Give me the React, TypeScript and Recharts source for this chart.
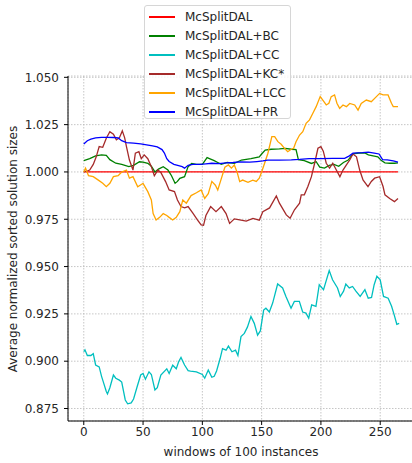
import React from "react";
import { LineChart, Line, XAxis, YAxis, CartesianGrid, Legend } from "recharts";

// ---- data ----
const dalX = [0, 265];
const dalY = [1.0, 1.0];

const bcX = [0, 5, 10, 15, 19, 22, 27, 32, 38, 42, 47, 50, 54, 57, 60, 63, 67, 71, 74, 77, 79, 81, 85, 88, 91, 95, 100, 104, 107, 110, 113, 116, 121, 127, 133, 141, 148, 150, 153, 158, 165, 170, 175, 179, 181, 186, 192, 196, 199, 203, 207, 211, 215, 219, 223, 227, 232, 237, 240, 244, 248, 251, 254, 258, 262, 265];
const bcY = [1.006, 1.007, 1.0085, 1.009, 1.0088, 1.0065, 1.0046, 1.004, 1.0028, 1.0035, 1.0054, 1.0052, 1.0046, 1.003, 1.0, 1.0015, 1.0028, 1.001, 0.998, 0.994, 0.995, 0.9966, 0.9975, 1.0028, 1.0045, 1.004, 1.004, 1.0076, 1.0068, 1.006, 1.005, 1.004, 1.005, 1.0045, 1.0063, 1.007, 1.008, 1.0095, 1.0116, 1.012, 1.0122, 1.0125, 1.012, 1.0118, 1.0065, 1.006, 1.0045, 1.0054, 1.0025, 1.002, 1.0035, 1.004, 1.003, 1.005, 1.0063, 1.0095, 1.01, 1.01, 1.009, 1.0085, 1.008, 1.006, 1.0048, 1.0046, 1.0046, 1.0048];

const ccX = [0, 1, 3, 6, 8, 10, 13, 15, 17, 19, 20, 22, 25, 27, 30, 32, 35, 37, 40, 42, 45, 48, 50, 52, 55, 57, 60, 62, 65, 70, 72, 75, 78, 80, 82, 85, 88, 90, 95, 100, 102, 105, 108, 110, 112, 115, 117, 120, 122, 125, 128, 130, 132.6, 135.4, 138, 141, 143.8, 146.6, 148.9, 151.7, 153.6, 156.5, 159.3, 163.5, 167.7, 170.5, 174.8, 177.6, 181.8, 184.6, 187.4, 189.7, 192.2, 195.8, 198.6, 202.2, 207, 209.8, 214, 216.3, 219.1, 221, 223.9, 226.7, 229.5, 233.1, 237.1, 239.9, 242.7, 244.9, 247.2, 250, 252.8, 256.7, 259.6, 261.8, 264, 266];
const ccY = [0.905, 0.906, 0.903, 0.903, 0.904, 0.898, 0.897, 0.892, 0.888, 0.884, 0.8827, 0.886, 0.8927, 0.891, 0.89, 0.889, 0.8795, 0.8775, 0.878, 0.88, 0.8865, 0.8927, 0.8935, 0.8905, 0.8944, 0.893, 0.8848, 0.886, 0.8927, 0.896, 0.8935, 0.8979, 0.896, 0.8997, 0.902, 0.898, 0.895, 0.8948, 0.8944, 0.893, 0.891, 0.8953, 0.8915, 0.892, 0.8948, 0.9014, 0.9066, 0.9058, 0.908, 0.905, 0.9058, 0.903, 0.913, 0.9147, 0.918, 0.9236, 0.92, 0.9138, 0.916, 0.927, 0.928, 0.926, 0.9307, 0.9408, 0.9387, 0.9342, 0.928, 0.9316, 0.9316, 0.926, 0.9254, 0.9227, 0.9298, 0.929, 0.9404, 0.9378, 0.9479, 0.943, 0.9387, 0.9342, 0.937, 0.9408, 0.9387, 0.9395, 0.937, 0.9342, 0.9378, 0.9333, 0.9337, 0.9404, 0.9449, 0.943, 0.9342, 0.9333, 0.929, 0.9245, 0.9195, 0.92];

const kcX = [0, 3, 5, 8, 10.5, 13, 16, 19, 22, 25, 27.5, 30, 32.5, 34.5, 36, 38.5, 41.5, 43.5, 46.5, 48.5, 51, 54, 57, 59.5, 62.5, 65, 69, 72, 76.5, 79, 82, 85, 88, 92, 96, 99, 101, 103, 107, 111.5, 116, 120, 123, 127, 131.5, 137, 142.7, 148, 151, 156.7, 162.4, 165, 170.8, 174, 177.7, 182, 183.4, 186, 189, 192, 194.7, 197.5, 200, 202, 204.5, 207.3, 210, 213, 216, 218.6, 221.5, 224.3, 227, 230, 232.7, 235.5, 239.7, 242.5, 245.3, 249.5, 252.4, 254, 258, 262, 265];
const kcY = [1.0, 1.0005, 1.001, 1.004, 1.008, 1.0134, 1.013, 1.0178, 1.0213, 1.02, 1.017, 1.018, 1.0217, 1.018, 1.0134, 1.0063, 1.001, 1.0099, 1.0107, 1.007, 1.009, 1.007, 1.0028, 0.998, 1.001, 0.9997, 0.9949, 0.9905, 0.9896, 0.9852, 0.9817, 0.981, 0.9817, 0.9782, 0.9746, 0.972, 0.9718, 0.977, 0.9817, 0.979, 0.9817, 0.978, 0.9728, 0.9752, 0.9747, 0.974, 0.9755, 0.9745, 0.979, 0.981, 0.9873, 0.9835, 0.9773, 0.9755, 0.98, 0.9835, 0.9879, 0.9879, 0.9923, 0.9975, 1.0046, 1.0125, 1.0134, 1.011, 1.0046, 1.002, 1.0046, 1.001, 0.9975, 1.001, 1.0037, 1.0063, 1.0095, 1.008, 1.001, 0.9958, 0.9923, 0.995, 0.9967, 0.9975, 0.9923, 0.9879, 0.986, 0.9843, 0.986];

const lccX = [0, 1.5, 4, 8, 12, 16, 19, 22, 25, 29, 32, 36, 38.5, 41.5, 45.5, 50, 54, 57, 58.5, 61, 64, 67, 70, 72, 75, 78, 81, 83.5, 86.5, 90.5, 95, 99, 102, 105, 108, 111, 113, 116, 119, 122, 124.5, 127, 129.5, 131.5, 134, 138.5, 142.5, 145.5, 148, 150, 152.5, 155.3, 158.6, 161, 163.7, 166.5, 169.3, 172, 175, 177, 179, 182, 184.7, 187.5, 190.4, 193.2, 196, 199.4, 201.6, 204.5, 206.7, 208.7, 211.5, 213.5, 215.8, 218.6, 221.5, 224.3, 228.5, 231.3, 234, 238.3, 242.5, 246.8, 249.5, 252.4, 256.6, 259.5, 261, 265];
const lccY = [1.0, 1.002, 0.998, 0.9975, 0.9958, 0.994, 0.9922, 0.994, 0.9975, 0.998, 1.0, 1.001, 0.9967, 0.9975, 0.9922, 0.994, 0.9896, 0.9852, 0.978, 0.9746, 0.976, 0.978, 0.977, 0.976, 0.9746, 0.976, 0.979, 0.9852, 0.9835, 0.9875, 0.989, 0.9905, 0.986, 0.9885, 0.995, 0.993, 0.9905, 0.9965, 1.0025, 1.0037, 1.002, 1.0037, 0.9995, 0.9949, 0.9957, 0.9945, 0.9957, 0.995, 0.9967, 1.0, 1.0046, 1.0099, 1.0187, 1.0187, 1.016, 1.0146, 1.0125, 1.0107, 1.012, 1.0125, 1.016, 1.0195, 1.0213, 1.0257, 1.0275, 1.031, 1.0345, 1.0398, 1.038, 1.0354, 1.0363, 1.0398, 1.0407, 1.0363, 1.0336, 1.0354, 1.0345, 1.0362, 1.0354, 1.0327, 1.0362, 1.038, 1.0371, 1.0398, 1.0415, 1.0407, 1.0407, 1.0363, 1.0345, 1.0345];

const prX = [0, 3, 6, 10, 15, 20, 25, 29, 32, 36, 42, 48, 53, 58, 62, 66, 68, 70, 72, 76, 80, 83, 85, 88, 92, 98, 103, 108, 114, 120, 126, 132, 140, 146, 151, 155, 165, 175, 182, 190, 200, 210, 220, 224, 227, 235, 240, 245, 249, 252, 256, 261, 265];
const prY = [1.0148, 1.0165, 1.0173, 1.018, 1.0183, 1.0183, 1.0182, 1.018, 1.0165, 1.0155, 1.0152, 1.0148, 1.0143, 1.0138, 1.0132, 1.0118, 1.01, 1.007, 1.0055, 1.004, 1.0033, 1.0028, 1.002, 1.0035, 1.004, 1.004, 1.0043, 1.0046, 1.0044, 1.0048, 1.005, 1.0053, 1.0052, 1.0055, 1.0058, 1.0063, 1.0063, 1.0064, 1.0066, 1.007, 1.007, 1.0072, 1.0072, 1.0085, 1.0099, 1.0102, 1.0105, 1.01, 1.0095, 1.0065, 1.0064, 1.0058, 1.0052];

const xTicks = [0, 50, 100, 150, 200, 250];
const yTicks = [0.875, 0.9, 0.925, 0.95, 0.975, 1.0, 1.025, 1.05];

const SERIES = [
  { name: "McSplitDAL", color: "#ff0000", xs: dalX, ys: dalY },
  { name: "McSplitDAL+BC", color: "#008000", xs: bcX, ys: bcY },
  { name: "McSplitDAL+CC", color: "#00bfbf", xs: ccX, ys: ccY },
  { name: "McSplitDAL+KC*", color: "#a52a2a", xs: kcX, ys: kcY },
  { name: "McSplitDAL+LCC", color: "#ffa500", xs: lccX, ys: lccY },
  { name: "McSplitDAL+PR", color: "#0000ff", xs: prX, ys: prY },
];

const FONT = "DejaVu Sans";
const TXT = "#262626";

const renderLegend = () => (
  <div
    style={{
      width: 147,
      height: 114,
      border: "1px solid #d6d6d6",
      borderRadius: 3,
      background: "rgba(255,255,255,0.85)",
      boxSizing: "border-box",
      position: "relative",
      fontFamily: FONT,
      fontSize: 12,
      color: TXT,
    }}
  >
    {SERIES.map((s, i) => (
      <div key={s.name} style={{ position: "absolute", left: 4, top: 3 + i * 19, height: 16, display: "flex", alignItems: "center" }}>
        <div style={{ width: 26, height: 2, background: s.color, marginRight: 10 }} />
        <span style={{ whiteSpace: "nowrap" }}>{s.name}</span>
      </div>
    ))}
  </div>
);

export default function App() {
  return (
    <div style={{ position: "absolute", left: 0, top: 0, width: 412, height: 463, overflow: "hidden", background: "#fff" }}>
      <LineChart width={420} height={463} margin={{ top: 76, right: 6, bottom: 0, left: 0 }}>
        <CartesianGrid stroke="#b8b8b8" strokeDasharray="1.5 1.5" strokeWidth={0.8} />
        <XAxis
          dataKey="x"
          type="number"
          domain={[-13.3, 278.5]}
          ticks={xTicks}
          allowDataOverflow
          height={42}
          tickSize={4}
          tick={{ fontSize: 12, fill: TXT, fontFamily: FONT }}
          axisLine={{ stroke: "#000", strokeWidth: 1 }}
          tickLine={{ stroke: "#000" }}
          label={{
            content: (p: any) => (
              <text x={241} y={452} textAnchor="middle" dominantBaseline="central" fontSize={12} fill={TXT} fontFamily={FONT}>
                windows of 100 instances
              </text>
            ),
          }}
        />
        <YAxis
          type="number"
          domain={[0.8684, 1.0507]}
          ticks={yTicks}
          allowDataOverflow
          width={68}
          tickSize={4}
          tickMargin={5}
          tickFormatter={(v: number) => v.toFixed(3)}
          tick={{ fontSize: 12, fill: TXT, fontFamily: FONT }}
          axisLine={{ stroke: "#000", strokeWidth: 1 }}
          tickLine={{ stroke: "#000" }}
          label={{
            content: (p: any) => (
              <text x={13} y={249} textAnchor="middle" dominantBaseline="central" fontSize={12} fill={TXT} fontFamily={FONT} transform="rotate(-90, 13, 249)">
                Average normalized sorted solution sizes
              </text>
            ),
          }}
        />
        {SERIES.map((s) => (
          <Line
            key={s.name}
            name={s.name}
            data={s.xs.map((x, i) => ({ x, y: s.ys[i] }))}
            dataKey="y"
            stroke={s.color}
            strokeWidth={1.3}
            dot={false}
            activeDot={false}
            isAnimationActive={false}
            type="linear"
          />
        ))}
        <Legend
          layout="vertical"
          align="center"
          verticalAlign="middle"
          content={renderLegend}
          wrapperStyle={{ position: "absolute", left: 144, top: 5, width: 147, height: 114 }}
        />
      </LineChart>
    </div>
  );
}
